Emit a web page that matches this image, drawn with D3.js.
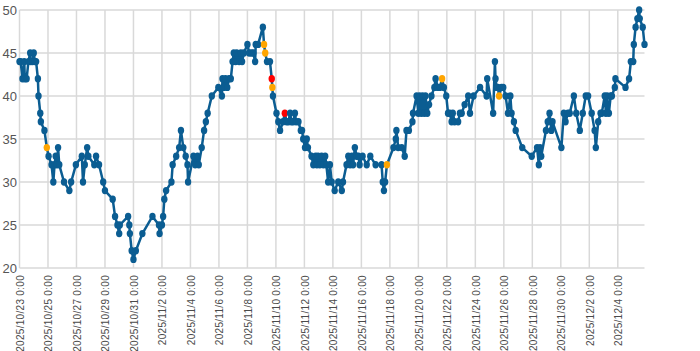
<!DOCTYPE html>
<html>
<head>
<meta charset="UTF-8">
<script src="https://d3js.org/d3.v7.min.js"></script>
<style>
  body { margin: 0; background: #fff; font-family: "Liberation Sans", Arial, sans-serif; }
  .grid line { stroke: #d9d9d9; stroke-width: 1.5; }
  .ylab { font-size: 13px; fill: #555; }
  .xlab { font-size: 10px; fill: #4a4a4a; letter-spacing: 0.3px; }
</style>
</head>
<body>
<svg width="700" height="351"></svg>
<script>
// hours since 2025/10/23 0:00 and the reading at that time
const startTime = Date.UTC(2025, 9, 23, 0, 0);
const hours = [0,2,5,8,9,12,15,18,19,22,24,26,28,31,32,35,36,42,46,49,54,57,59,61,63,65,67,75,84,87,95,105,107,110,114,116,126,129,134,141,144,157,161,165,168,169,183,185,186,189,192,196,207,224,235,236,240,242,244,247,256,258,264,269,272,276,280,283,284,293,296,300,302,307,311,314,317,324,335,341,342,344,347,350,353,356,359,361,364,366,370,373,375,378,384,387,391,394,397,398,402,410,412,414,417,422,425,426,427,433,436,439,444,447,450,453,456,458,461,464,466,470,474,476,478,481,484,486,492,495,499,501,503,506,509,512,515,517,520,523,526,531,537,543,545,551,554,557,560,562,565,568,571,573,578,585,591,600,610,612,614,616,619,630,634,635,638,644,649,652,656,662,663,669,672,674,677,679,682,684,687,690,694,699,701,705,708,712,715,719,722,725,728,730,733,739,742,745,750,756,759,765,776,787,788,798,801,802,804,806,808,812,815,819,823,827,829,833,836,847,863,872,875,877,879,887,890,893,896,898,913,917,920,924,927,934,938,944,949,954,958,964,969,971,975,979,981,986,988,990,993,996,998,1003,1004,1021,1027,1030,1034,1035,1038,1041,1044,1045,1050,1053];
const values = [44,44,42,44,42,42,44,45,44,44,45,44,44,42,40,38,37,36,34,33,32,30,32,33,32,34,32,30,29,30,32,33,30,32,34,33,32,33,32,30,29,28,26,25,24,25,26,25,24,22,21,22,24,26,25,24,25,26,28,29,30,32,33,34,36,34,33,32,30,33,32,33,32,34,36,37,38,40,41,40,42,41,42,41,42,42,44,45,44,45,44,45,44,45,46,45,45,45,44,46,46,48,46,45,44,44,42,41,40,38,37,36,37,38,37,37,38,37,37,38,37,37,36,36,35,34,35,34,33,32,33,32,33,32,33,32,33,32,30,32,30,29,30,29,30,32,33,32,33,32,34,33,33,32,33,32,33,32,32,30,29,30,32,34,35,36,34,34,33,36,36,37,38,40,38,40,38,40,38,40,38,39,40,41,42,41,41,42,41,40,38,38,37,38,37,37,38,38,39,40,38,40,41,40,42,38,44,42,41,41,40,41,41,40,38,40,38,37,36,34,33,34,32,34,33,36,37,38,36,37,34,38,37,38,38,40,38,36,38,40,40,38,36,34,37,38,38,40,38,40,38,40,40,41,42,41,42,44,44,46,48,49,50,49,48,46];
// highlighted readings (hours)
const warnHours = [46, 412, 414, 426, 619, 712, 808];
const alarmHours = [425, 447];

const yTicks = [20, 25, 30, 35, 40, 45, 50];
const tickStepHours = 48;

const width = 700, height = 351;
const margin = { left: 19.5, right: 55.5, top: 10, bottom: 83 };
const svg = d3.select("svg");

const data = hours.map((h, i) => ({
  t: new Date(startTime + h * 3600e3),
  h: h,
  v: values[i],
  color: alarmHours.includes(h) ? "#ff0000" : warnHours.includes(h) ? "#ffa500" : "#0b5d92"
}));

const x = d3.scaleUtc()
  .domain(d3.extent(data, d => d.t))
  .range([margin.left, width - margin.right]);
const y = d3.scaleLinear()
  .domain([20, 50])
  .range([height - margin.bottom, margin.top]);

const xTicks = d3.range(0, d3.max(hours) + 1, tickStepHours)
  .map(h => new Date(startTime + h * 3600e3));
const fmt = d3.utcFormat("%Y/%-m/%-d %-H:%M");

// grid
const grid = svg.append("g").attr("class", "grid");
grid.selectAll(".h").data(yTicks).enter().append("line")
  .attr("x1", margin.left).attr("x2", width - margin.right)
  .attr("y1", d => y(d)).attr("y2", d => y(d));
grid.selectAll(".v").data(xTicks).enter().append("line")
  .attr("x1", d => x(d)).attr("x2", d => x(d))
  .attr("y1", margin.top).attr("y2", y(20));

// y labels
svg.append("g").selectAll("text").data(yTicks).enter().append("text")
  .attr("class", "ylab")
  .attr("x", 17).attr("y", d => y(d)).attr("dy", "0.35em")
  .attr("text-anchor", "end")
  .text(d => d);

// x labels
svg.append("g").selectAll("text").data(xTicks).enter().append("text")
  .attr("class", "xlab")
  .attr("transform", d => `translate(${x(d) + 1},${y(20) + 7}) rotate(-90)`)
  .attr("dy", "0.35em")
  .attr("text-anchor", "end")
  .text(d => fmt(d));

// line
const line = d3.line().x(d => x(d.t)).y(d => y(d.v));
svg.append("path")
  .datum(data)
  .attr("fill", "none")
  .attr("stroke", "#0b5d92")
  .attr("stroke-width", 2.5)
  .attr("stroke-linejoin", "round")
  .attr("d", line);

// markers
svg.append("g").selectAll("ellipse").data(data).enter().append("ellipse")
  .attr("cx", d => x(d.t)).attr("cy", d => y(d.v))
  .attr("rx", 3.2).attr("ry", 3.7)
  .attr("fill", d => d.color);
</script>
</body>
</html>
